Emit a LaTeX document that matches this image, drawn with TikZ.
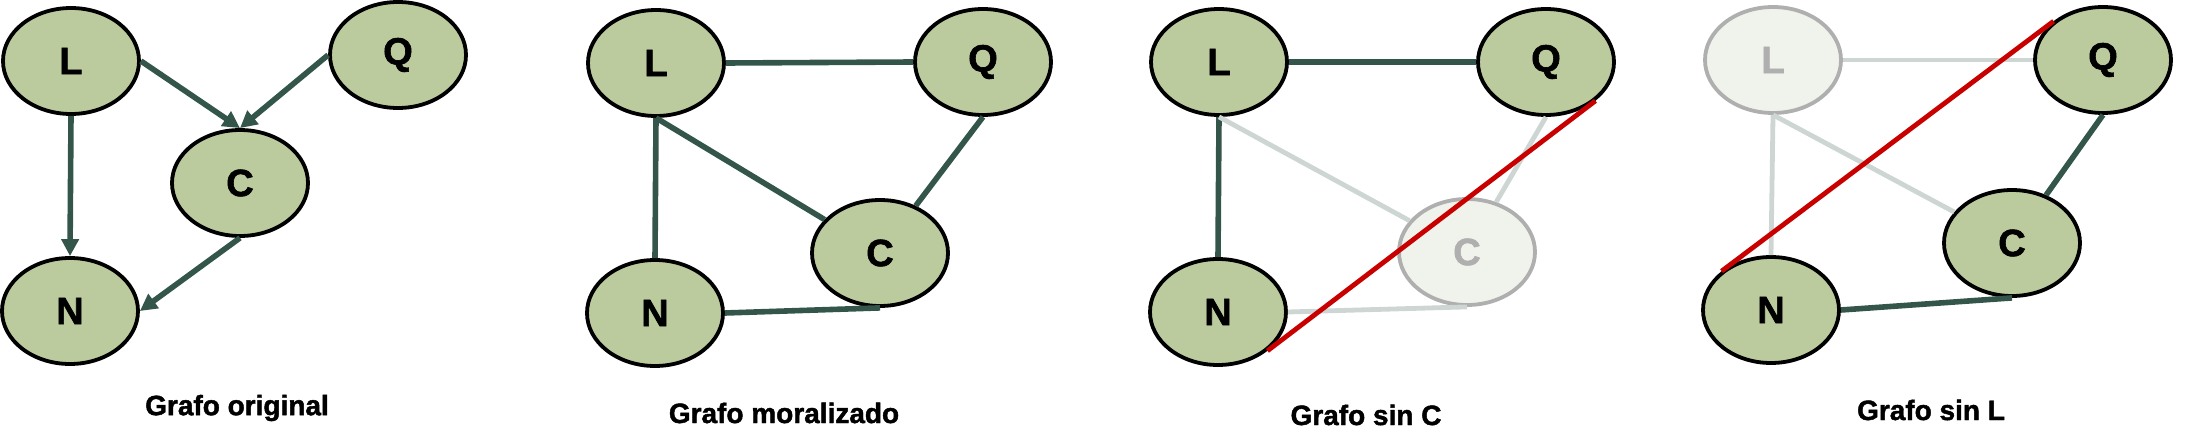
\documentclass[tikz,border=0pt]{standalone}
\usepackage{fontspec}
\setmainfont{Liberation Sans}[BoldFeatures={FakeBold=1.6}]
\usetikzlibrary{arrows.meta,shapes.geometric}
\definecolor{verde}{RGB}{188,203,158}
\definecolor{oscuro}{RGB}{52,86,74}
\definecolor{tenue}{RGB}{205,214,210}
\definecolor{palido}{RGB}{240,243,236}
\definecolor{gris}{RGB}{175,175,175}
\definecolor{rojo}{RGB}{200,0,0}
\newcommand{\arista}[2]{\draw[grueso] (#1) -- (#2)}
\newcommand{\flecha}[2]{\draw[grueso,-{Triangle[length=8.5pt,width=8.5pt]}] (#1) -- (#2)}
\newcommand{\borrada}[2]{\draw[tenue,line width=2.4pt] (#1) -- (#2)}
\newcommand{\corte}[2]{\draw[rojo,line width=2.4pt] (#1) -- (#2)}
\tikzset{
  grueso/.style={oscuro, line width=2.8pt},
  var/.style={ellipse, draw=black, fill=verde, line width=1.9pt,
    minimum width=68pt, minimum height=53pt, inner sep=0pt,
    font=\fontsize{19}{19}\selectfont\bfseries},
  oculta/.style={var, draw=gris, fill=palido, text=gris},
  titulo/.style={font=\fontsize{14}{14}\selectfont\bfseries}
}

\begin{document}
\begin{tikzpicture}[x=0.5pt, y=-0.5pt]
\useasboundingbox (0,0) rectangle (2212,444);
%Original graph
	\node[var] (L1) at (71,61) {L};
	\node[var] (Q1) at (398,55) {Q};
	\node[var] (C1) at (240,183) {C};
	\node[var] (N1) at (70,311) {N};
	\flecha{L1.east}{C1.north};
	\flecha{Q1.west}{C1.north};
	\flecha{L1.south}{N1.north};
	\flecha{C1.south}{N1.east};
	\node[titulo] (t1) at (237,408) {Grafo original};
%Moral graph
	\node[var] (L2) at (656,63) {L};
	\node[var] (Q2) at (983,62) {Q};
	\node[var] (C2) at (880,253) {C};
	\node[var] (N2) at (655,313) {N};
	\arista{L2.east}{Q2.west};
	\arista{L2.south}{N2.north};
	\arista{L2.south}{C2};
	\arista{Q2.south}{C2};
	\arista{N2.east}{C2.south};
	\node[titulo] (t2) at (784,413) {Grafo moralizado};
%Without C
	\node[var] (L3) at (1219,62) {L};
	\node[var] (Q3) at (1546,62) {Q};
	\node[oculta] (C3) at (1467,252) {C};
	\node[var] (N3) at (1218,312) {N};
	\arista{L3.east}{Q3.west};
	\arista{L3.south}{N3.north};
	\borrada{L3.south}{C3};
	\borrada{Q3.south}{C3};
	\borrada{N3.east}{C3.south};
	\corte{N3.south east}{Q3.south east};
	\node[titulo] (t3) at (1366,415) {Grafo sin C};
%Without L
	\node[oculta] (L4) at (1773,60) {L};
	\node[var] (Q4) at (2103,60) {Q};
	\node[var] (C4) at (2012,243) {C};
	\node[var] (N4) at (1771,310) {N};
	\borrada{L4.east}{Q4.west};
	\borrada{L4.south}{N4.north};
	\borrada{L4.south}{C4};
	\arista{Q4.south}{C4};
	\arista{N4.east}{C4.south};
	\corte{N4.north west}{Q4.north west};
	\node[titulo] (t4) at (1931,410) {Grafo sin L};
\end{tikzpicture}
\end{document}
